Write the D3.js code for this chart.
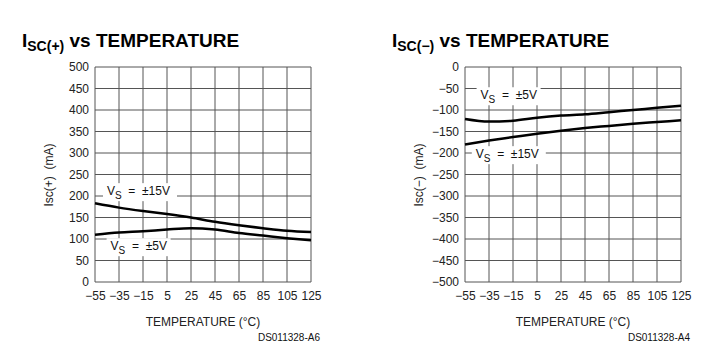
<!DOCTYPE html>
<html>
<head>
<meta charset="utf-8">
<script src="https://cdn.jsdelivr.net/npm/d3@7"></script>
<style>
  body { margin: 0; background: #fff; }
  svg { display: block; }
  .tick text { font-family: "Liberation Sans", Arial, sans-serif; font-size: 12px; fill: #222; }
  .title { font-family: "Liberation Sans", Arial, sans-serif; font-weight: bold; font-size: 19px; fill: #000; }
  .axis-label { font-family: "Liberation Sans", Arial, sans-serif; font-size: 12px; fill: #222; }
  .curve-label { font-family: "Liberation Sans", Arial, sans-serif; font-size: 12px; fill: #111; }
  .code { font-family: "Liberation Sans", Arial, sans-serif; font-size: 10px; fill: #111; }
</style>
</head>
<body>
<div id="chart"></div>
<script>
// temperatures (°C) shared by both panels
var temps = [-55, -35, -15, 5, 25, 45, 65, 85, 105, 125];

// Isc(+) panel, mA
var iscPos15 = [183, 173, 165, 158, 150, 140, 132, 125, 119, 116];
var iscPos5  = [110, 115, 118, 122, 125, 122, 114, 108, 102, 97];
var posTicks = [0, 50, 100, 150, 200, 250, 300, 350, 400, 450, 500];

// Isc(-) panel, mA
var iscNeg5  = [-121, -127, -125, -118, -113, -110, -105, -100, -95, -90];
var iscNeg15 = [-180, -171, -163, -155, -148, -142, -137, -132, -128, -124];
var negTicks = [0, -50, -100, -150, -200, -250, -300, -350, -400, -450, -500];

var W = 718, H = 364;
var svg = d3.select("#chart").append("svg")
    .attr("width", W)
    .attr("height", H);

function fmt(v) { return String(v).replace("-", "\u2212"); }

// one panel: title, grid, axes, curves, labels
function drawPanel(p) {
  var x = d3.scaleLinear().domain([-55, 125]).range([p.left, p.left + 216]);
  var y = d3.scaleLinear().domain(p.domain).range([282, 67]);

  // title with subscript
  var t = svg.append("text").attr("class", "title")
      .attr("x", p.left - 73).attr("y", 47);
  t.append("tspan").text("I");
  t.append("tspan").attr("font-size", "14px").attr("dy", 4).text(p.sub);
  t.append("tspan").attr("dy", -4).text(" vs TEMPERATURE");

  var g = svg.append("g");

  // grid
  g.selectAll(".vgrid").data(temps).enter().append("line")
      .attr("x1", function(d) { return x(d); }).attr("x2", function(d) { return x(d); })
      .attr("y1", y.range()[1]).attr("y2", y.range()[0])
      .attr("stroke", "#555").attr("stroke-width", 1);
  g.selectAll(".hgrid").data(p.ticks).enter().append("line")
      .attr("y1", function(d) { return y(d); }).attr("y2", function(d) { return y(d); })
      .attr("x1", x.range()[0]).attr("x2", x.range()[1])
      .attr("stroke", "#555").attr("stroke-width", 1);

  // axes (labels only)
  g.append("g")
      .attr("transform", "translate(0,282)")
      .call(d3.axisBottom(x).tickValues(temps).tickSize(0).tickPadding(9).tickFormat(fmt))
      .call(function(a) { a.select(".domain").remove(); });
  g.append("g")
      .attr("transform", "translate(" + p.left + ",0)")
      .call(d3.axisLeft(y).tickValues(p.ticks).tickSize(0).tickPadding(6).tickFormat(fmt))
      .call(function(a) { a.select(".domain").remove(); });

  // label boxes (cover grid)
  p.labels.forEach(function(l) {
    var tx = x(l.t), ty = y(l.v);
    g.append("rect")
      .attr("x", tx - 4).attr("y", ty - 12)
      .attr("width", l.w).attr("height", 18)
      .attr("fill", "#fff");
    var lt = g.append("text").attr("class", "curve-label")
      .attr("x", tx).attr("y", ty)
      .attr("xml:space", "preserve");
    lt.append("tspan").text("V");
    lt.append("tspan").attr("font-size", "10px").attr("dy", 4).text("S");
    lt.append("tspan").attr("dy", -4).text("  =  \u00b1" + l.txt);
  });

  // curves
  var line = d3.line()
      .x(function(d, i) { return x(temps[i]); })
      .y(function(d) { return y(d); })
      .curve(d3.curveMonotoneX);
  p.series.forEach(function(s) {
    g.append("path")
      .attr("d", line(s))
      .attr("fill", "none")
      .attr("stroke", "#000")
      .attr("stroke-width", 2.5);
  });

  // axis titles
  svg.append("text").attr("class", "axis-label")
      .attr("transform", "translate(" + (p.left - 42) + ",175) rotate(-90)")
      .attr("text-anchor", "middle")
      .attr("xml:space", "preserve")
      .text(p.ylabel);
  svg.append("text").attr("class", "axis-label")
      .attr("x", p.left + 108).attr("y", 326)
      .attr("text-anchor", "middle")
      .text("TEMPERATURE (\u00b0C)");
  svg.append("text").attr("class", "code")
      .attr("x", p.left + 225).attr("y", 341)
      .attr("text-anchor", "end")
      .text(p.code);
}

drawPanel({
  left: 95, domain: [0, 500], ticks: posTicks, sub: "SC(+)",
  ylabel: "Isc(+)  (mA)", code: "DS011328-A6",
  series: [iscPos15, iscPos5],
  labels: [
    { t: -45, v: 202, txt: "15V", w: 74 },
    { t: -42, v: 74, txt: "5V", w: 64 }
  ]
});

drawPanel({
  left: 465, domain: [-500, 0], ticks: negTicks, sub: "SC(\u2212)",
  ylabel: "Isc(\u2212)  (mA)", code: "DS011328-A4",
  series: [iscNeg5, iscNeg15],
  labels: [
    { t: -42, v: -75, txt: "5V", w: 64 },
    { t: -46, v: -212, txt: "15V", w: 74 }
  ]
});
</script>
</body>
</html>
